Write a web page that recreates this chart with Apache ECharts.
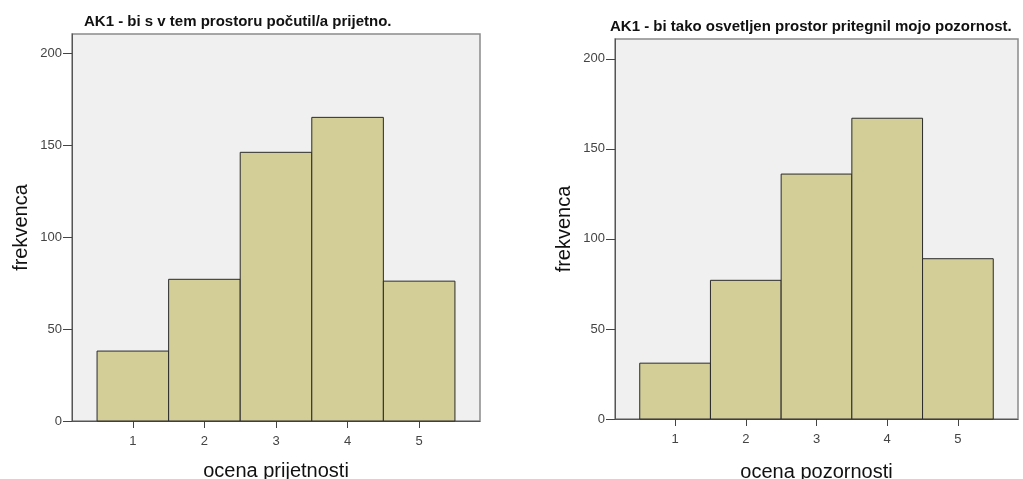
<!DOCTYPE html>
<html><head><meta charset="utf-8">
<script src="https://cdn.jsdelivr.net/npm/echarts@6/dist/echarts.min.js"></script>
<style>html,body{margin:0;padding:0;background:#fff}#c{width:1023px;height:479px}</style>
</head><body><div id="c"></div>
<script>
const categories = [1, 2, 3, 4, 5];
const valuesPrijetnost = [38, 77, 146, 165, 76];
const valuesPozornost = [31, 77, 136, 167, 89];
const yTicks = [0, 50, 100, 150, 200];
const titleLeft = 'AK1 - bi s v tem prostoru počutil/a prijetno.';
const titleRight = 'AK1 - bi tako osvetljen prostor pritegnil mojo pozornost.';
const xNameLeft = 'ocena prijetnosti';
const xNameRight = 'ocena pozornosti';
const yName = 'frekvenca';

const font = 'Liberation Sans, Arial, sans-serif';
function barData(vals){ return categories.map((c,i)=>[c, vals[i]]); }
function renderItem(params, api){
  const x = api.value(0), y = api.value(1);
  const p0 = api.coord([x - 0.5, 0]);
  const p1 = api.coord([x + 0.5, y]);
  return {
    type: 'rect',
    shape: {x: p0[0], y: p1[1], width: p1[0] - p0[0], height: p0[1] - p1[1]},
    style: {fill: '#d3ce97', stroke: '#2a2a2a', lineWidth: 1}
  };
}
function xAxis(idx, name, gap){
  return {
    type: 'value', gridIndex: idx, min: 0.15, max: 5.85,
    name: name, nameLocation: 'middle', nameGap: gap,
    nameTextStyle: {fontFamily: font, fontSize: 20, color: '#111'},
    axisLine: {show: true, onZero: false, lineStyle: {color: '#555', width: 1}},
    axisTick: {show: true, length: 7, inside: false, customValues: categories, lineStyle: {color: '#444'}},
    axisLabel: {customValues: categories, fontFamily: font, fontSize: 13, color: '#444', margin: 14},
    splitLine: {show: false}
  };
}
function yAxis(idx, max){
  return {
    type: 'value', gridIndex: idx, min: 0, max: max,
    name: yName, nameLocation: 'middle', nameGap: 41, nameRotate: 90,
    nameTextStyle: {fontFamily: font, fontSize: 20, color: '#111'},
    axisLine: {show: true, lineStyle: {color: '#555', width: 1}},
    axisTick: {show: true, length: 9, inside: false, customValues: yTicks, lineStyle: {color: '#444'}},
    axisLabel: {customValues: yTicks, fontFamily: font, fontSize: 13, color: '#444', margin: 10},
    splitLine: {show: false}
  };
}
const chart = echarts.init(document.getElementById('c'), null, {renderer: 'canvas'});
chart.setOption({
  animation: false,
  backgroundColor: '#fff',
  title: [
    {text: titleLeft, left: 84, top: 14, padding: 0, textStyle: {fontFamily: font, fontSize: 15, fontWeight: 'bold', color: '#111'}},
    {text: titleRight, left: 610, top: 19, padding: 0, textStyle: {fontFamily: font, fontSize: 15, fontWeight: 'bold', color: '#111'}}
  ],
  grid: [
    {left: 72, top: 34, width: 408, height: 387, outerBoundsMode: 'none', containLabel: false, show: true, backgroundColor: '#f0f0f0', borderColor: '#8a8a8a', borderWidth: 1.5},
    {left: 615, top: 39, width: 403, height: 380, outerBoundsMode: 'none', containLabel: false, show: true, backgroundColor: '#f0f0f0', borderColor: '#8a8a8a', borderWidth: 1.5}
  ],
  xAxis: [xAxis(0, xNameLeft, 40), xAxis(1, xNameRight, 43)],
  yAxis: [yAxis(0, 210.3), yAxis(1, 211)],
  series: [
    {type: 'custom', xAxisIndex: 0, yAxisIndex: 0, data: barData(valuesPrijetnost), renderItem: renderItem},
    {type: 'custom', xAxisIndex: 1, yAxisIndex: 1, data: barData(valuesPozornost), renderItem: renderItem}
  ]
});
</script></body></html>
